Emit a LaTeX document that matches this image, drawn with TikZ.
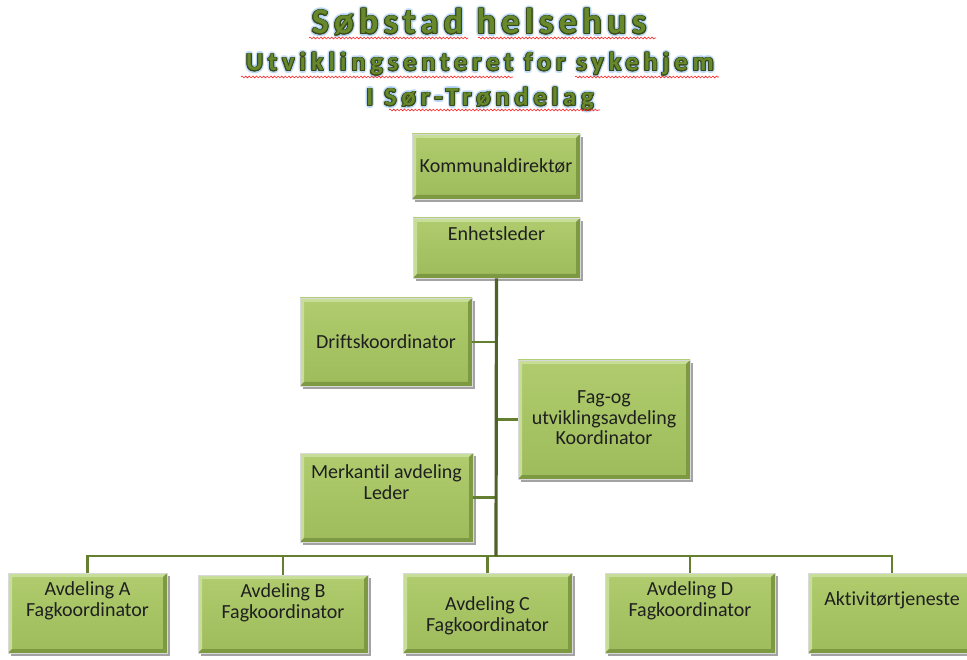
\documentclass[tikz,border=0pt]{standalone}
\usepackage{fontspec}
\setmainfont{Carlito}[Ligatures=NoCommon]
\newfontfamily\titleA[LetterSpace=15,Ligatures=NoCommon]{Carlito}
\newfontfamily\titleB[LetterSpace=19.5,Ligatures=NoCommon]{Carlito}
\usetikzlibrary{shadows,decorations.pathmorphing}
\definecolor{boxtop}{HTML}{B0CC6E}
\definecolor{boxbot}{HTML}{9EBC5B}
\definecolor{bevlight}{HTML}{C6DE97}
\definecolor{bevdark}{HTML}{7D9942}
\definecolor{linedark}{HTML}{4F6228}
\definecolor{linemid}{HTML}{647F30}
\definecolor{titlefill}{HTML}{68882C}
\definecolor{titleedge}{HTML}{3A4A17}
\definecolor{glowblue}{HTML}{9CC6F2}
\newcommand\glowline[5]{%
  \foreach \ang in {0,30,...,330}{%
    \node[anchor=base, text=glowblue, text opacity=0.35, font=#4, inner sep=0pt] (#1g\ang) at ([shift={(\ang:2.6pt)}]#2,#3) {#5};
  }%
  \foreach \ang in {0,24,...,336}{%
    \node[anchor=base, text=titleedge, font=#4, inner sep=0pt] (#1o\ang) at ([shift={(\ang:0.9pt)}]#2,#3) {#5};
  }%
  \node[anchor=base, text=titlefill, font=#4, inner sep=0pt] (#1) at (#2,#3) {#5};
}
\tikzset{
  gbox/.style={rectangle, inner sep=0pt, draw=black!15, line width=0.6pt,
    top color=boxtop, bottom color=boxbot,
    drop shadow={shadow xshift=3pt, shadow yshift=-3pt, fill=black!60, opacity=0.6},
    path picture={
      \path (path picture bounding box.south west) coordinate (pSW)
            (path picture bounding box.north east) coordinate (pNE);
      \fill[bevlight] (pSW) |- (pNE) -- ++(-4pt,-4pt) -| ([shift={(4pt,4pt)}]pSW) -- cycle;
      \fill[bevdark] (pSW) -| (pNE) -- ++(-4pt,-4pt) |- ([shift={(4pt,4pt)}]pSW) -- cycle;
    }},
  btext/.style={align=center, text=black!88, font=\fontsize{20}{20.5}\selectfont, inner sep=0pt},
  mainline/.style={draw=linedark, line width=3.2pt},
  subline/.style={draw=linemid, line width=2.2pt},
  squig/.style={draw=red!85, line width=0.6pt, decorate, decoration={snake, amplitude=0.9pt, segment length=3.6pt}}
}
\begin{document}
\begin{tikzpicture}[x=1pt,y=-1pt]
\useasboundingbox (0,0) rectangle (967,660);
\fill[white] (0,0) rectangle (967,660);

% title
\glowline{t1}{479}{34}{\titleA\bfseries\fontsize{36}{40}\selectfont}{Søbstad helsehus}
\glowline{t2}{480}{71}{\titleB\bfseries\fontsize{26}{30}\selectfont}{Utviklingsenteret for sykehjem}
\glowline{t3}{480}{106}{\titleB\bfseries\fontsize{26}{30}\selectfont}{I Sør-Trøndelag}
\draw[squig] (309,38) -- (468,38);
\draw[squig] (478,38) -- (656,38);
\draw[squig] (241,77) -- (513,77);
\draw[squig] (575,77) -- (719,77);
\draw[squig] (389,110) -- (600,110);

% boxes
\node[gbox, minimum width=168pt, minimum height=65pt] (K) at (496,166.5) {};
\node[gbox, minimum width=167pt, minimum height=60pt] (E) at (496.5,248) {};
\node[gbox, minimum width=172pt, minimum height=88pt] (D) at (386,342) {};
\node[gbox, minimum width=172pt, minimum height=119pt] (F) at (604,419.5) {};
\node[gbox, minimum width=173pt, minimum height=89pt] (M) at (386.5,497.5) {};
\node[gbox, minimum width=159pt, minimum height=80pt] (A) at (87.5,613) {};
\node[gbox, minimum width=170pt, minimum height=78pt] (B) at (283,614) {};
\node[gbox, minimum width=169pt, minimum height=80pt] (C) at (487.5,613) {};
\node[gbox, minimum width=170pt, minimum height=80pt] (Dd) at (690,613) {};
\node[gbox, minimum width=168pt, minimum height=80pt] (Ak) at (892,613) {};

% texts
\node[btext] (Kt) at (496,166) {Kommunaldirektør};
\node[btext] (Et) at (496.5,234) {Enhetsleder};
\node[btext] (Dt) at (386,342) {Driftskoordinator};
\node[btext] (Ft) at (604,418) {Fag-og\\utviklingsavdeling\\Koordinator};
\node[btext] (Mt) at (386.5,482) {Merkantil avdeling\\Leder};
\node[btext] (At) at (87.5,601) {Avdeling A\\Fagkoordinator};
\node[btext] (Bt) at (283,603) {Avdeling B\\Fagkoordinator};
\node[btext] (Ct) at (487.5,616) {Avdeling C\\Fagkoordinator};
\node[btext] (Ddt) at (690,601) {Avdeling D\\Fagkoordinator};
\node[btext] (Akt) at (892,600) {Aktivitørtjeneste};

% connectors
\coordinate (bus) at (496,556);
\draw[subline] (D.east) -- (D.east -| bus);
\draw[subline] (F.west) -- (F.west -| bus);
\draw[subline] (M.east) -- (M.east -| bus);
\draw[subline] (bus) -| (A.north);
\draw[subline] (bus) -| (B.north);
\draw[subline] (bus) -| (C.north);
\draw[subline] (bus) -| (Dd.north);
\draw[subline] (bus) -| (Ak.north);
\draw[mainline] (E.south) -- (bus);
\end{tikzpicture}
\end{document}
